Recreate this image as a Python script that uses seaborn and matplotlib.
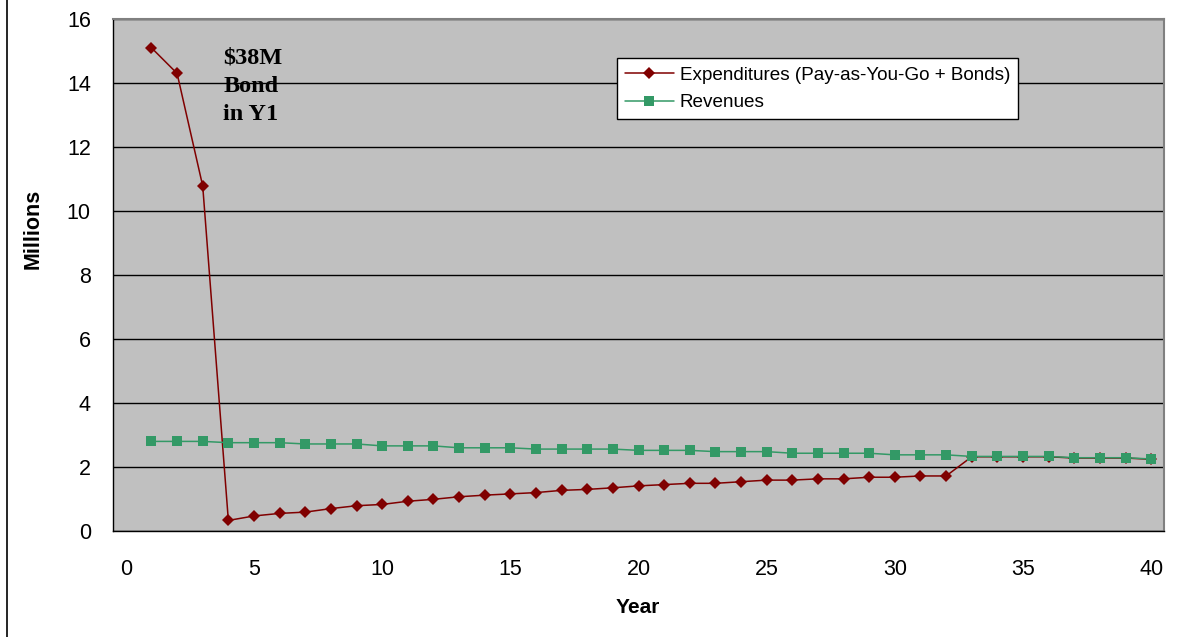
import numpy as np
import pandas as pd
import matplotlib
matplotlib.use('Agg')
import matplotlib.pyplot as plt
import seaborn as sns
from matplotlib.lines import Line2D

# Data (millions of dollars per year)
years = list(range(1, 41))
expenditures = [15.10, 14.30, 10.78, 0.33, 0.47, 0.55, 0.59, 0.70, 0.79, 0.83,
                0.93, 0.99, 1.07, 1.12, 1.16, 1.20, 1.27, 1.30, 1.35, 1.41,
                1.45, 1.49, 1.49, 1.54, 1.59, 1.59, 1.63, 1.63, 1.68, 1.68,
                1.72, 1.72, 2.32, 2.32, 2.32, 2.32, 2.28, 2.28, 2.28, 2.24]
revenues = [2.80, 2.80, 2.80, 2.76, 2.76, 2.76, 2.72, 2.72, 2.72, 2.66,
            2.66, 2.66, 2.60, 2.60, 2.60, 2.56, 2.56, 2.56, 2.56, 2.52,
            2.52, 2.52, 2.48, 2.48, 2.48, 2.43, 2.43, 2.43, 2.43, 2.38,
            2.38, 2.38, 2.33, 2.33, 2.33, 2.33, 2.29, 2.29, 2.29, 2.25]
exp_label = 'Expenditures (Pay-as-You-Go + Bonds)'
rev_label = 'Revenues'
x_ticks = [0, 5, 10, 15, 20, 25, 30, 35, 40]
y_ticks = [0, 2, 4, 6, 8, 10, 12, 14, 16]

df = pd.DataFrame({
    'Year': years * 2,
    'Millions': expenditures + revenues,
    'Series': [exp_label] * len(years) + [rev_label] * len(years),
})

sns.set_style('white')
plt.rcParams['font.family'] = ['Liberation Sans', 'DejaVu Sans']
plt.rcParams['text.color'] = 'black'
plt.rcParams['xtick.color'] = 'black'
plt.rcParams['ytick.color'] = 'black'
plt.rcParams['axes.labelcolor'] = 'black'

fig = plt.figure(figsize=(11.86, 6.37), dpi=100)
ax = fig.add_axes([113 / 1186, 106 / 637, 1051 / 1186, 512 / 637])
ax.set_facecolor('#C0C0C0')

sns.lineplot(data=df, x='Year', y='Millions', hue='Series', style='Series',
             palette={exp_label: '#800000', rev_label: '#339966'},
             markers={exp_label: 'D', rev_label: 's'}, dashes=False,
             markersize=6.5, markeredgewidth=0, linewidth=1.1, ax=ax)
# diamonds a bit smaller than the squares
for line in ax.lines:
    if line.get_marker() == 'D':
        line.set_markersize(6)

ax.set_xlim(-0.5, 40.5)
ax.set_ylim(0, 16)
ax.set_xticks(x_ticks)
ax.set_xticks(np.arange(-0.5, 41, 1), minor=True)
ax.set_yticks(y_ticks)
ax.tick_params(axis='x', which='major', length=0, pad=20, labelsize=15.5)
ax.tick_params(axis='x', which='minor', length=5, width=1, color='black', direction='out')
ax.tick_params(axis='y', which='major', length=6, width=1, color='black', direction='out',
               pad=10, labelsize=15.5)
ax.grid(axis='y', color='black', linewidth=1)
ax.set_axisbelow(True)

for side in ['top', 'right']:
    ax.spines[side].set_color('#808080')
    ax.spines[side].set_linewidth(1.5)
for side in ['left', 'bottom']:
    ax.spines[side].set_color('black')
    ax.spines[side].set_linewidth(1)

ax.set_xlabel('Year', fontsize=15, fontweight='bold')
ax.set_ylabel('Millions', fontsize=15.5, fontweight='bold')
ax.xaxis.set_label_coords(0.4995, -0.13)
ax.yaxis.set_label_coords(-0.066, 0.59)

ax.text(3.8, 15.1, '$38M\nBond\nin Y1', family=['Liberation Serif', 'DejaVu Serif'],
        fontsize=17.5, fontweight='bold', ha='left', va='top', linespacing=1.45)

handles = [Line2D([], [], color='#800000', marker='D', markersize=6, markeredgewidth=0, linewidth=1.1),
           Line2D([], [], color='#339966', marker='s', markersize=6.5, markeredgewidth=0, linewidth=1.1)]
leg = ax.legend(handles, [exp_label, rev_label], loc='upper left',
                bbox_to_anchor=(0.4795, 0.923), frameon=True, fancybox=False,
                fontsize=13.6, handlelength=2.6, borderpad=0.42, labelspacing=0.56,
                handletextpad=0.3, borderaxespad=0)
leg.get_frame().set_edgecolor('black')
leg.get_frame().set_linewidth(1)
leg.get_frame().set_facecolor('white')
leg.get_frame().set_alpha(1)

fig.add_artist(Line2D([7 / 1186, 7 / 1186], [0, 1], color='black', linewidth=1.2,
                      transform=fig.transFigure))

fig.savefig('out.png', dpi=100)
